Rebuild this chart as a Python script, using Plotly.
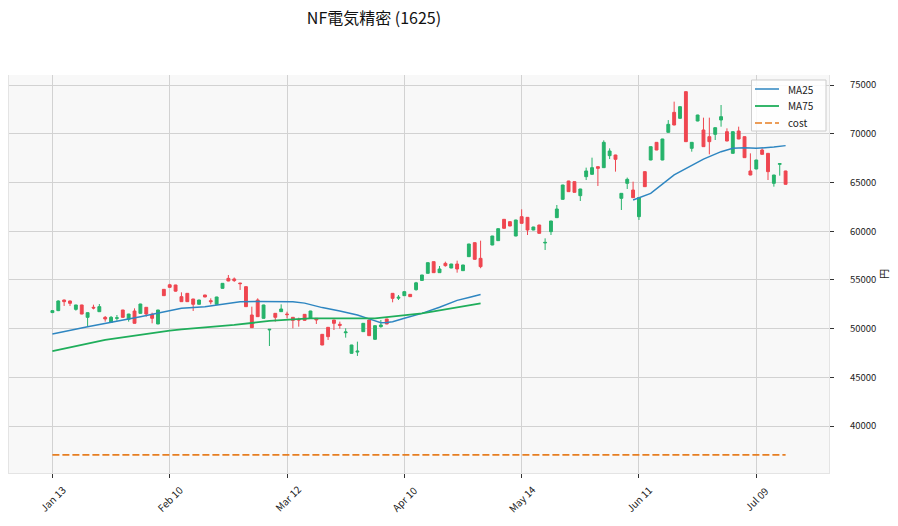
import plotly.graph_objects as go

title = "NF電気精密 (1625)"
tick_idx = [0, 20, 40, 60, 80, 100, 120]
tick_lab = ["Jan 13", "Feb 10", "Mar 12", "Apr 10", "May 14", "Jun 11", "Jul 09"]

opens = [51650, 51850, 52940, 52840, 51980, 52430, 51160, 52190, 51740, 51160,
         50650, 51060, 51915, 50960, 51810, 51570, 52190, 51470, 50480, 54035,
         54500, 54480, 53283, 53625, 53044, 52500, 53454, 52873, 52500, 54138,
         55164, 55100, 54680, 54309, 51402, 52941, 51060, 49870, 51573, 51744,
         51500, 51163, 50950, 51470, 51060, 51060, 49418, 50137, 50889, 50445,
         49580, 47469, 47600, 49692, 50889, 48905, 50205, 50992, 53625, 53130,
         53386, 53522, 54000, 54950, 55677, 56874, 55745, 56703, 56224, 56634,
         55950, 57387, 58823, 57216, None, 58584, 59029, 61218, 60978, 59507,
         61491, 61423, 60123, 60636, 58790, 59952, 61388, 63269, 65150, 65082,
         63646, 65595, 65835, 66621, 66519, 67750, 67818, 63372, 64911, 64227,
         61491, 66109, 67305, 69118, 67305, 70144, 72196, 71580, 74316, 68502,
         71306, 70383, 69699, 69939, 71409, 70212, 67989, 70281, 69699, 66177,
         66382, 68331, 67989, 64911, 66861, 66177]
highs = [51900, 52900, 52980, 52880, 52450, 52450, 51660, 52460, 52530, 51300,
         51300, 51400, 51930, 51520, 52085, 52550, 52210, 51640, 51930, 54060,
         54600, 54500, 53727, 53650, 53060, 52960, 53470, 53112, 53270, 54670,
         55506, 55250, 54700, 54330, 52257, 53112, 52450, 49950, 51590, 52496,
         51740, 51180, 51129, 51490, 51830, 51080, 49440, 50160, 50900, 50720,
         50035, 48340, 48666, 50560, 50910, 50320, 50890, 51010, 53640, 53450,
         53850, 53540, 54800, 55520, 56790, 56890, 56429, 56874, 56650, 56976,
         56550, 58700, 58840, 59029, None, 59520, 60280, 61240, 61000, 61170,
         62243, 61440, 60450, 60650, 59268, 61060, 62688, 64760, 65170, 65100,
         64350, 66520, 67544, 66640, 69323, 68500, 67840, 63900, 65500, 65082,
         63460, 66130, 68690, 69140, 69480, 71400, 73290, 72800, 74340, 69140,
         71940, 71648, 71648, 70640, 72948, 70554, 70230, 70725, 69720, 67989,
         67320, 68502, 68010, 65780, 66950, 66200]
lows = [51600, 51800, 52330, 52330, 51850, 51480, 50200, 51980, 51720, 50720,
        50600, 50820, 51140, 50720, 50530, 51550, 51230, 50550, 50460, 53380,
        54200, 53800, 52750, 52750, 51812, 52480, 53230, 52500, 52480, 54120,
        54870, 54800, 53970, 52240, 50080, 51210, 51040, 48220, 50718, 51720,
        51060, 50034, 50205, 50830, 51040, 50480, 48300, 48837, 49862, 50000,
        49077, 47450, 47200, 49670, 49260, 48880, 50100, 50460, 52702, 52940,
        53370, 53260, 53900, 54900, 55660, 55720, 55720, 56361, 56200, 55745,
        55930, 57370, 57090, 56200, None, 58560, 59000, 60270, 60510, 59480,
        60780, 59610, 60100, 59760, 58071, 59610, 61370, 63250, 64030, 63970,
        63098, 65250, 65810, 64638, 66500, 67400, 66109, 62175, 64330, 63420,
        61150, 64550, 67280, 68310, 67280, 70120, 70870, 71560, 69160, 68160,
        71280, 68650, 67887, 69357, 70720, 69230, 67970, 69440, 67520, 65740,
        66360, 67860, 65253, 64569, 65698, 64790]
closes = [51850, 52840, 52770, 52600, 52430, 51500, 51640, 52120, 52260, 50990,
          51160, 51110, 51160, 51500, 50550, 52530, 51500, 51060, 51915, 53385,
          54240, 53850, 52770, 52770, 52500, 52940, 53249, 52770, 53249, 54651,
          54890, 54930, 54620, 52257, 50102, 51231, 52428, 49930, 51163, 52018,
          51440, 50850, 50889, 50855, 51812, 50889, 48324, 49179, 50548, 50343,
          49660, 48324, 47690, 50548, 49282, 50307, 50377, 50480, 53112, 53220,
          53796, 53283, 54700, 55506, 56771, 55745, 56121, 56463, 56634, 56121,
          56532, 58687, 57113, 56361, None, 59507, 60260, 60294, 60534, 61149,
          60807, 60123, 60431, 59781, 58850, 61046, 62277, 64740, 64056, 63988,
          64330, 66178, 66519, 66450, 69118, 68229, 67373, 63885, 65321, 63440,
          63440, 64569, 68673, 68331, 69460, 70964, 70896, 72777, 69186, 69118,
          71922, 68673, 69186, 70622, 71751, 69254, 70212, 69460, 67544, 65766,
          67305, 67887, 66108, 65766, 66930, 64809]

ma25_idx = [0, 6, 15, 20, 22, 26, 29, 32, 35, 39, 41, 43, 46, 49, 52, 54, 56, 57, 58, 60, 63, 66, 69, 71, 73,
            None,
            99, 102, 106, 109, 111, 114, 116, 118, 120, 123, 125]
ma25_val = [49450, 50200, 51230, 51800, 52090, 52250, 52500, 52770, 52780, 52770, 52750, 52620, 52160, 51810,
            51400, 51000, 50600, 50620, 50700, 51060, 51570, 52200, 52900, 53200, 53500,
            None,
            63200, 63880, 65770, 66800, 67400, 68160, 68500, 68570, 68500, 68640, 68780]
ma75_idx = [0, 9, 20, 22, 31, 37, 41, 44, 52, 55, 63, 73]
ma75_val = [47700, 48840, 49790, 49935, 50380, 50790, 50960, 51060, 51060, 51060, 51570, 52600]
cost_val = 37050

legend_names = ["MA25", "MA75", "cost"]

n = len(closes)
x = list(range(n))

UP = "#26b36b"
DOWN = "#ef4650"
C_MA25 = "#2e86c1"
C_MA75 = "#1fae5b"
C_COST = "#e67e22"
FONT = "Noto Sans CJK JP"

W, H = 898, 526
ML, MR, MT, MB = 9, 69, 75, 53
PW, PH = W - ML - MR, H - MT - MB


def px_x(p):
    return (p - ML) / PW


def px_y(p):
    return (H - MB - p) / PH


fig = go.Figure()
fig.add_trace(go.Candlestick(
    x=x, open=opens, high=highs, low=lows, close=closes,
    increasing=dict(line=dict(color=UP, width=1), fillcolor=UP),
    decreasing=dict(line=dict(color=DOWN, width=1), fillcolor=DOWN),
    whiskerwidth=0, showlegend=False, hoverinfo="skip",
))
fig.add_trace(go.Scatter(x=ma25_idx, y=ma25_val, mode="lines", name="MA25", showlegend=False,
                         line=dict(color=C_MA25, width=1.5), connectgaps=False))
fig.add_trace(go.Scatter(x=ma75_idx, y=ma75_val, mode="lines", name="MA75", showlegend=False,
                         line=dict(color=C_MA75, width=1.8)))
fig.add_trace(go.Scatter(x=[0, n - 1], y=[cost_val, cost_val], mode="lines", name="cost", showlegend=False,
                         line=dict(color=C_COST, width=1.6, dash="7px,3px")))

# rotated x tick labels centred on their ticks
for xi, lab in zip(tick_idx, tick_lab):
    fig.add_annotation(x=xi, y=0, xref="x", yref="paper", text=lab, textangle=-45,
                       showarrow=False, xanchor="center", yanchor="middle", yshift=-25,
                       font=dict(size=10, family=FONT, color="#222"))

# legend box drawn in the top-right corner
fig.add_shape(type="rect", xref="paper", yref="paper",
              x0=px_x(751.5), x1=px_x(826), y0=px_y(131), y1=px_y(80),
              line=dict(color="#cccccc", width=1), fillcolor="rgba(255,255,255,0.85)", layer="above")
leg_styles = [dict(color=C_MA25, width=1.5), dict(color=C_MA75, width=1.8),
              dict(color=C_COST, width=1.6, dash="7px,3px")]
for k, (name, st) in enumerate(zip(legend_names, leg_styles)):
    yy = 89 + k * 17
    fig.add_shape(type="line", xref="paper", yref="paper",
                  x0=px_x(755), x1=px_x(779), y0=px_y(yy), y1=px_y(yy), line=st, layer="above")
    fig.add_annotation(x=px_x(786), y=px_y(yy), xref="paper", yref="paper", text=name,
                       showarrow=False, xanchor="left", yanchor="middle",
                       font=dict(size=10, family=FONT, color="#222"))

fig.update_layout(
    width=W, height=H,
    margin=dict(l=ML, r=MR, t=MT, b=MB),
    paper_bgcolor="white", plot_bgcolor="#f8f8f8",
    font=dict(family=FONT, size=10, color="#222"),
    title=dict(text=title, x=374 / W, xanchor="center", y=1 - 18 / H, yanchor="middle",
               font=dict(size=16, family=FONT, color="#111")),
    showlegend=False,
    xaxis=dict(range=[-7.4, 132.4], tickmode="array", tickvals=tick_idx, ticktext=[""] * len(tick_idx),
               showgrid=True, gridcolor="#d2d2d2", gridwidth=1,
               ticks="outside", ticklen=4, tickcolor="#333", zeroline=False,
               rangeslider=dict(visible=False), showline=True, linecolor="#e4e4e4",
               automargin=False),
    yaxis=dict(range=[35190, 76026], side="right", tickvals=[40000, 45000, 50000, 55000, 60000, 65000, 70000, 75000],
               tickformat="d", showgrid=True, gridcolor="#d2d2d2", gridwidth=1,
               ticks="outside", ticklen=4, tickcolor="#333", zeroline=False,
               showline=True, linecolor="#e4e4e4", mirror=True, automargin=False,
               ticklabelstandoff=14,
               title=dict(text="円", standoff=4, font=dict(size=10)), tickfont=dict(size=9.5)),
)

fig.write_html("out.html")
